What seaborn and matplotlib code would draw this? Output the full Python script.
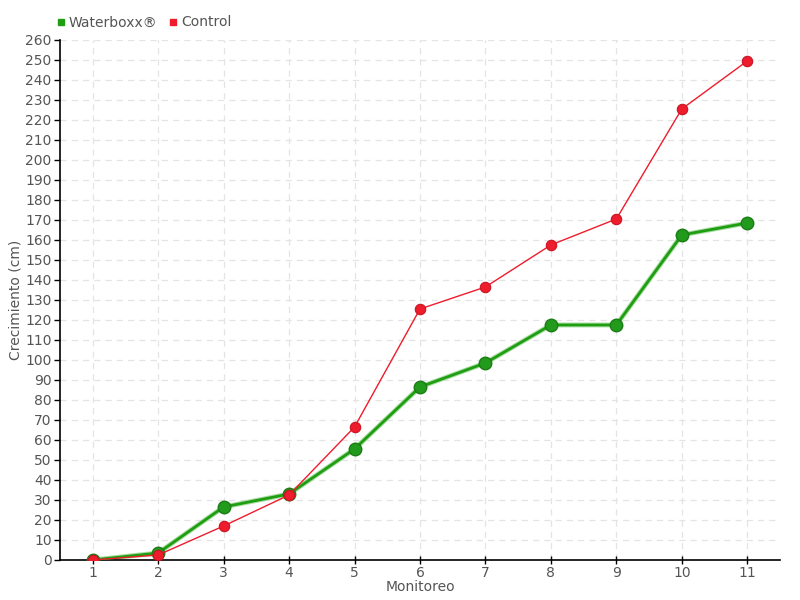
import numpy as np
import pandas as pd
import seaborn as sns
import matplotlib.pyplot as plt

monitoreo = [1, 2, 3, 4, 5, 6, 7, 8, 9, 10, 11]
waterboxx = [0, 3.5, 26.5, 33, 55.5, 86.5, 98.5, 117.5, 117.5, 162.5, 168.5]
control = [0, 2.5, 17, 32.5, 66.5, 125.5, 136.5, 157.5, 170.5, 225.5, 249.5]

df = pd.DataFrame({
    "Monitoreo": monitoreo * 2,
    "Crecimiento": waterboxx + control,
    "Serie": ["Waterboxx®"] * len(monitoreo) + ["Control"] * len(monitoreo),
})

sns.set_style("white")
plt.rcParams["font.family"] = ["DejaVu Sans"]

text_color = "#555555"
green = "#1f9e12"
red = "#ee1c2c"

fig = plt.figure(figsize=(8, 6), dpi=100)
ax = fig.add_axes([0.075, 0.0667, 0.9, 0.8667])

wb = df[df["Serie"] == "Waterboxx®"]
ct = df[df["Serie"] == "Control"]

# light highlight under the thick green line
sns.lineplot(data=wb, x="Monitoreo", y="Crecimiento", ax=ax, color="#a8dca2",
             linewidth=3.5, zorder=2, legend=False)
sns.lineplot(data=wb, x="Monitoreo", y="Crecimiento", ax=ax, color=green,
             linewidth=2, marker="o", markersize=9, markerfacecolor="#229a1c",
             markeredgecolor="#1b7d16", markeredgewidth=1, zorder=3, legend=False)
sns.lineplot(data=ct, x="Monitoreo", y="Crecimiento", ax=ax, color=red,
             linewidth=1, marker="o", markersize=7.5, markerfacecolor=red,
             markeredgecolor="#c81522", markeredgewidth=0.8, zorder=4, legend=False)

ax.set_xlim(0.5, 11.5)
ax.set_ylim(0, 260)
ax.set_xticks(monitoreo)
ax.set_yticks(np.arange(0, 261, 10))
ax.grid(True, color="#e4e4e4", linestyle=(0, (5, 4)), linewidth=0.9)
ax.set_axisbelow(True)

for s in ["top", "right"]:
    ax.spines[s].set_visible(False)
for s in ["left", "bottom"]:
    ax.spines[s].set_color("black")
    ax.spines[s].set_linewidth(1.2)

ax.tick_params(axis="y", direction="out", length=4, width=1, colors="black",
               labelcolor=text_color, labelsize=10, pad=2)
ax.tick_params(axis="x", direction="inout", length=6, width=1, colors="black",
               labelcolor=text_color, labelsize=10, pad=1)
ax.tick_params(left=True, bottom=True)

ax.set_xlabel("Monitoreo", color=text_color, fontsize=10, labelpad=0)
ax.set_ylabel("Crecimiento (cm)", color=text_color, fontsize=10, labelpad=2)

handles = [
    plt.Line2D([], [], marker="s", linestyle="none", color=green, markersize=5),
    plt.Line2D([], [], marker="s", linestyle="none", color=red, markersize=5),
]
fig.legend(handles, ["Waterboxx®", "Control"], loc="upper left",
           bbox_to_anchor=(0.055, 0.995), ncol=2, frameon=False,
           handlelength=0.6, handletextpad=0.3, columnspacing=0.8,
           fontsize=10, labelcolor=text_color)

fig.savefig("out.png", dpi=100)
